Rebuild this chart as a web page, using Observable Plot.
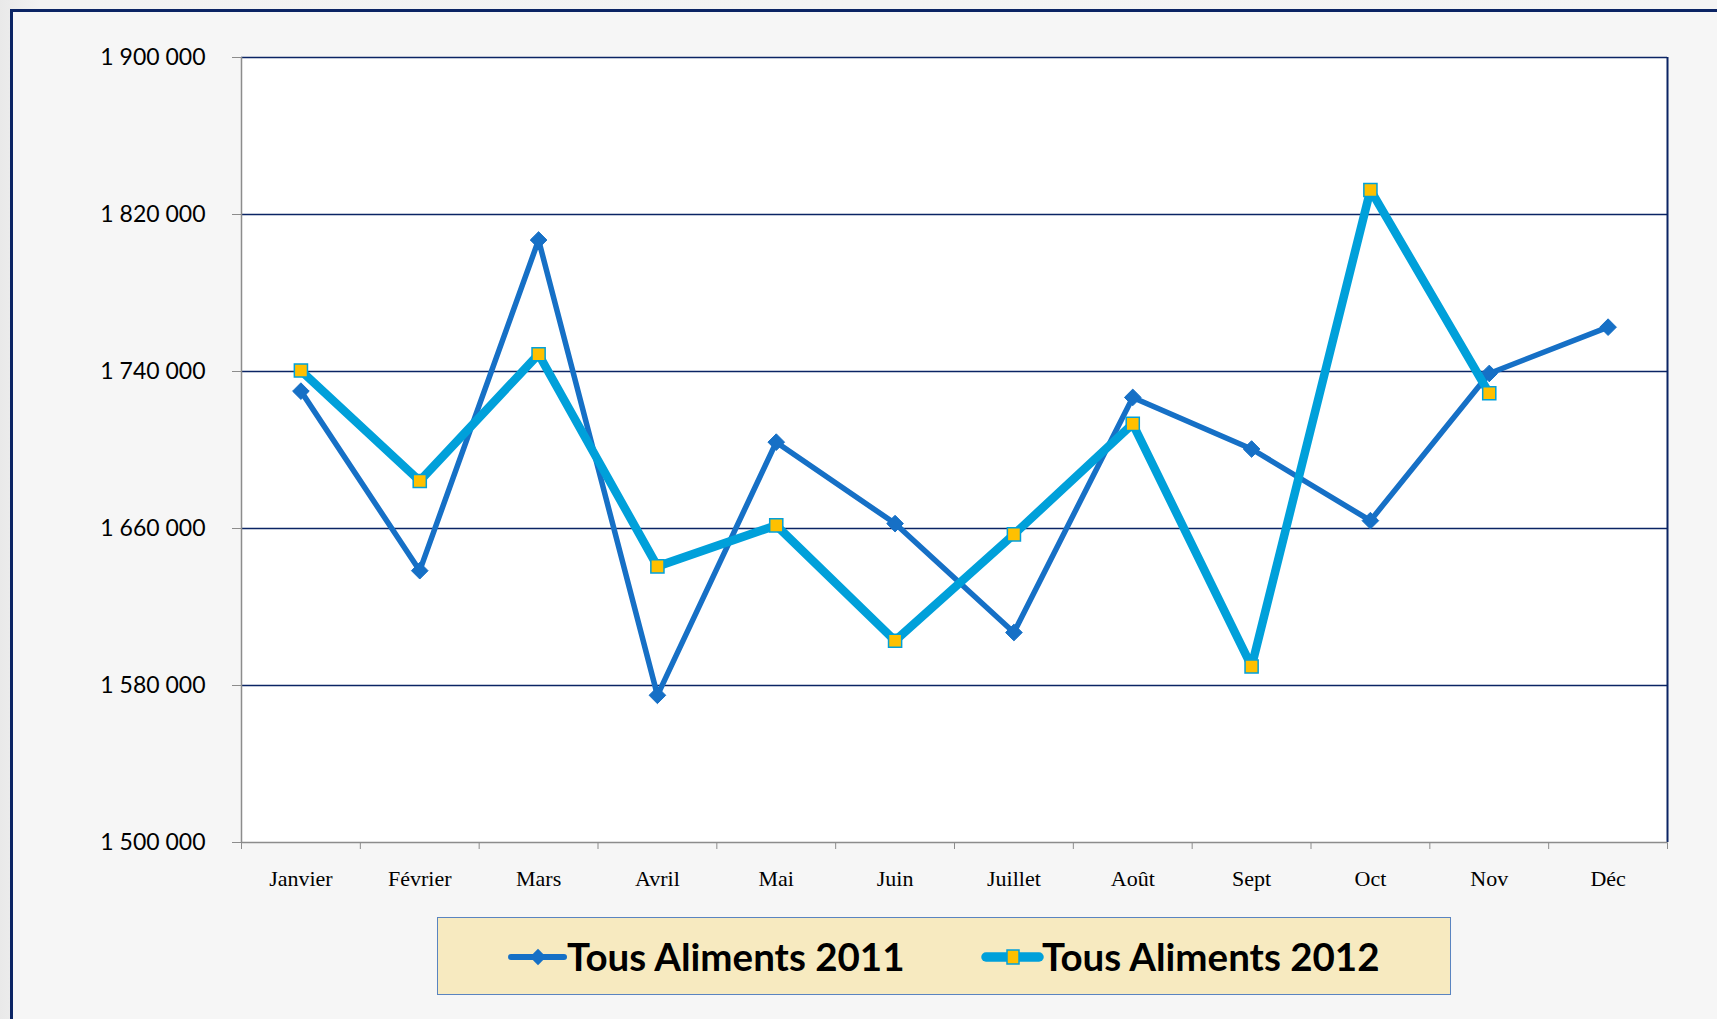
<!DOCTYPE html>
<html>
<head>
<meta charset="utf-8">
<script src="https://cdn.jsdelivr.net/npm/d3@7"></script>
<script src="https://cdn.jsdelivr.net/npm/@observablehq/plot@0.6"></script>
<style>
  html, body { margin: 0; padding: 0; }
  body { width: 1717px; height: 1019px; overflow: hidden; background: linear-gradient(90deg, #e9e9e9, #f2f2f2 40px, #f4f4f4); position: relative; font-family: Lato, sans-serif; }
  #frame { position: absolute; left: 10px; top: 9px; width: 1800px; height: 1100px; border-left: 3px solid #0b2464; border-top: 3px solid #0b2464; background: #f6f6f6; }
  #chart { position: absolute; left: 0; top: 0; }
  #legend { position: absolute; left: 437px; top: 917px; width: 1014px; height: 78px; box-sizing: border-box; background: #f7eac0; border: 1.5px solid #5a84c0; }
  #legend svg { position: absolute; left: 0; top: 0; }
  g[aria-label="y-axis"] .tick line { stroke: #8c8c8c; }
  g[aria-label="x-axis"] .tick line { stroke: #8c8c8c; }
  g[aria-label="y-axis tick"], g[aria-label="x-axis tick"] { color: #8c8c8c; }
</style>
</head>
<body>
<div id="frame"></div>
<div id="chart"></div>
<div id="legend"></div>
<script>
// ---- data ----
const months = ["Janvier", "Février", "Mars", "Avril", "Mai", "Juin", "Juillet", "Août", "Sept", "Oct", "Nov", "Déc"];
const values2011 = [1730000, 1638500, 1807000, 1575000, 1704000, 1662500, 1607000, 1726800, 1700500, 1664000, 1739000, 1762600];
const values2012 = [1740500, 1684200, 1748800, 1640700, 1661600, 1602800, 1657000, 1713300, 1589700, 1832500, 1728900];
const yTicks = [1500000, 1580000, 1660000, 1740000, 1820000, 1900000];
const seriesNames = ["Tous Aliments 2011", "Tous Aliments 2012"];

const c2011 = "#1670c6";
const c2012 = "#00a0da";
const navy = "#0b2464";
const gray = "#8c8c8c";

const rows2011 = values2011.map((v, i) => ({i, month: months[i], value: v}));
const rows2012 = values2012.map((v, i) => ({i, month: months[i], value: v}));
const monthRows = months.map((m, i) => ({i, month: m}));
const xc = d => d.i + 0.5;
const fmt = d => d3.format(",")(d).replace(/,/g, " ");

const chart = Plot.plot({
  width: 1717,
  height: 900,
  marginLeft: 241,
  marginRight: 50,
  marginTop: 57,
  marginBottom: 58,
  style: {background: "transparent", fontFamily: "Lato, sans-serif", fontSize: "23px", color: "#000", overflow: "visible"},
  x: {type: "linear", domain: [0, months.length], ticks: d3.range(months.length + 1), tickSize: 7, tickFormat: () => "", label: null},
  y: {domain: [yTicks[0], yTicks[yTicks.length - 1]], ticks: yTicks, tickFormat: fmt, tickSize: 9, tickPadding: 27, label: null},
  marks: [
    Plot.frame({fill: "white", stroke: "none"}),
    Plot.ruleY(yTicks.slice(1), {stroke: navy, strokeWidth: 1.6}),
    Plot.ruleX([months.length], {stroke: navy, strokeWidth: 2}),
    Plot.ruleX([0], {stroke: gray, strokeWidth: 1.5}),
    Plot.ruleY([yTicks[0]], {stroke: gray, strokeWidth: 1.5}),
    Plot.text(monthRows, {x: xc, text: "month", frameAnchor: "bottom", dy: 36, fontFamily: "Liberation Serif, serif", fontSize: 22, fill: "#000", lineAnchor: "middle"}),
    Plot.line(rows2011, {x: xc, y: "value", stroke: c2011, strokeWidth: 5.5, strokeLinejoin: "round"}),
    Plot.dot(rows2011, {x: xc, y: "value", symbol: "diamond2", r: 7.5, fill: c2011, stroke: c2011, strokeWidth: 1}),
    Plot.line(rows2012, {x: xc, y: "value", stroke: c2012, strokeWidth: 8.5, strokeLinejoin: "round"}),
    Plot.dot(rows2012, {x: xc, y: "value", symbol: "square", r: 7.4, fill: "#ffc000", stroke: c2012, strokeWidth: 1.5})
  ]
});
document.getElementById("chart").appendChild(chart);

// ---- legend ----
const lg = d3.select("#legend").append("svg").attr("width", 1011).attr("height", 75);
const items = [
  {name: seriesNames[0], x0: 70, color: c2011, w: 6, marker: "diamond"},
  {name: seriesNames[1], x0: 545, color: c2012, w: 9.5, marker: "square"}
];
items.forEach(it => {
  const cy = 39;
  lg.append("line").attr("x1", it.x0 + 3).attr("x2", it.x0 + 56).attr("y1", cy).attr("y2", cy)
    .attr("stroke", it.color).attr("stroke-width", it.w).attr("stroke-linecap", "round");
  const cx = it.x0 + 30;
  if (it.marker === "diamond") {
    lg.append("path").attr("d", d3.symbol(d3.symbolDiamond2, 170)()).attr("transform", `translate(${cx},${cy})`)
      .attr("fill", it.color);
  } else {
    lg.append("rect").attr("x", cx - 6).attr("y", cy - 7).attr("width", 12).attr("height", 14)
      .attr("fill", "#ffc000").attr("stroke", it.color).attr("stroke-width", 1.5);
  }
  lg.append("text").attr("x", it.x0 + 59).attr("y", 53).text(it.name)
    .attr("font-family", "Lato, sans-serif").attr("font-weight", "bold").attr("font-size", 38.5).attr("fill", "#000");
});
</script>
</body>
</html>
